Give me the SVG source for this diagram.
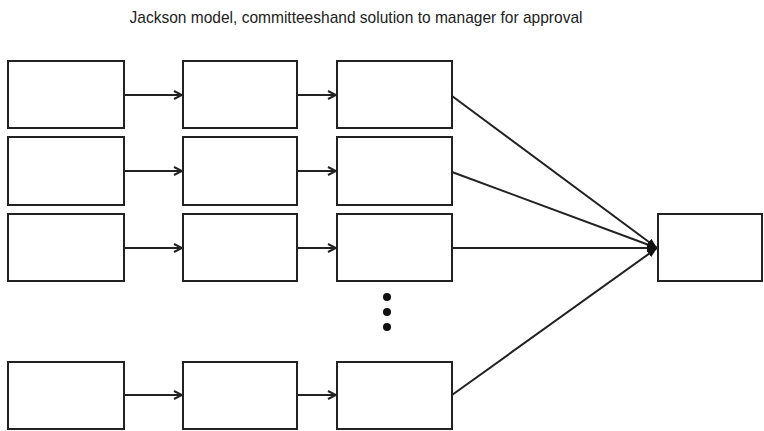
<svg xmlns="http://www.w3.org/2000/svg" width="764" height="431" viewBox="0 0 764 431">
<style>
.box{fill:#fff;stroke:#222;stroke-width:2}
.ln{fill:none;stroke:#222;stroke-width:2}
.title{font-family:"Liberation Sans",Arial,sans-serif;font-size:17px;fill:#222}
</style>
<defs>
<marker id="ah" viewBox="0 0 10 10" refX="9" refY="5" markerWidth="5" markerHeight="5" orient="auto" markerUnits="strokeWidth">
<path d="M1,1 L9,5 L1,9" fill="none" stroke="#222" stroke-width="2"/>
</marker>
<marker id="ahf" viewBox="0 0 10 10" refX="10" refY="5" markerWidth="5" markerHeight="5" orient="auto" markerUnits="strokeWidth">
<path d="M0,1 L10,5 L0,9 z" fill="#111"/>
</marker>
</defs>
<rect width="764" height="431" fill="#fff"/>
<text class="title" x="356" y="23" text-anchor="middle" textLength="453" lengthAdjust="spacingAndGlyphs">Jackson model, committeeshand solution to manager for approval</text>
<g id="connectors">
<line class="ln" x1="124" y1="95" x2="182" y2="95" marker-end="url(#ah)"/>
<line class="ln" x1="297" y1="95" x2="336" y2="95" marker-end="url(#ah)"/>
<line class="ln" x1="124" y1="171" x2="182" y2="171" marker-end="url(#ah)"/>
<line class="ln" x1="297" y1="171" x2="336" y2="171" marker-end="url(#ah)"/>
<line class="ln" x1="124" y1="248" x2="182" y2="248" marker-end="url(#ah)"/>
<line class="ln" x1="297" y1="248" x2="336" y2="248" marker-end="url(#ah)"/>
<line class="ln" x1="124" y1="395" x2="182" y2="395" marker-end="url(#ah)"/>
<line class="ln" x1="297" y1="395" x2="336" y2="395" marker-end="url(#ah)"/>
<line class="ln" x1="452" y1="96" x2="657" y2="248" marker-end="url(#ahf)"/>
<line class="ln" x1="452" y1="172" x2="657" y2="248" marker-end="url(#ahf)"/>
<line class="ln" x1="452" y1="248" x2="657" y2="248" marker-end="url(#ahf)"/>
<line class="ln" x1="452" y1="395" x2="657" y2="248" marker-end="url(#ahf)"/>
</g>
<g id="r1c1"><rect class="box" x="8" y="61" width="116" height="67"/></g>
<g id="r1c2"><rect class="box" x="183" y="61" width="114" height="67"/></g>
<g id="r1c3"><rect class="box" x="337" y="61" width="115" height="67"/></g>
<g id="r2c1"><rect class="box" x="8" y="137" width="116" height="68"/></g>
<g id="r2c2"><rect class="box" x="183" y="137" width="114" height="68"/></g>
<g id="r2c3"><rect class="box" x="337" y="137" width="115" height="68"/></g>
<g id="r3c1"><rect class="box" x="8" y="214" width="116" height="67"/></g>
<g id="r3c2"><rect class="box" x="183" y="214" width="114" height="67"/></g>
<g id="r3c3"><rect class="box" x="337" y="214" width="115" height="67"/></g>
<g id="r4c1"><rect class="box" x="8" y="362" width="116" height="67"/></g>
<g id="r4c2"><rect class="box" x="183" y="362" width="114" height="67"/></g>
<g id="r4c3"><rect class="box" x="337" y="362" width="115" height="67"/></g>
<g id="manager"><rect class="box" x="658" y="214" width="104" height="67"/></g>
<g id="ellipsis" fill="#111">
<circle cx="387" cy="297" r="4"/>
<circle cx="387" cy="312" r="4"/>
<circle cx="387" cy="327" r="4"/>
</g>
</svg>
